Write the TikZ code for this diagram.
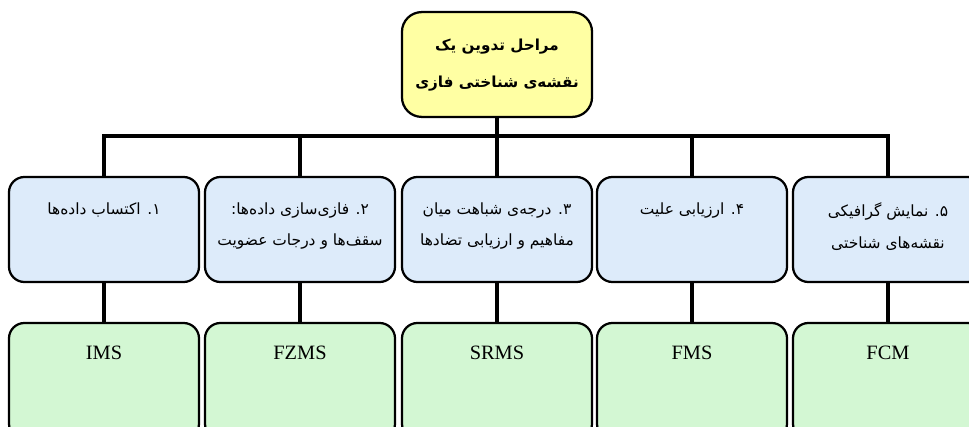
\documentclass[tikz,border=0pt]{standalone}
\usepackage{fontspec}
\setmainfont{Liberation Serif}
\newfontfamily\farsi[Script=Arabic]{DejaVu Sans}
\TeXXeTstate=1
\definecolor{topfill}{HTML}{FFFFA3}
\definecolor{bluefill}{HTML}{DDEBFA}
\definecolor{greenfill}{HTML}{D3F7D3}
\tikzset{
  boxbase/.style={draw=black, line width=1.6pt, rounded corners=11pt, inner sep=0pt, outer sep=0pt,
                  minimum width=4.75cm, minimum height=2.625cm},
  topbox/.style={boxbase, fill=topfill, minimum width=4.75cm, minimum height=2.62cm, rounded corners=14pt},
  stagebox/.style={boxbase, fill=bluefill},
  modelbox/.style={boxbase, fill=greenfill, minimum height=2.9cm},
  conn/.style={draw=black, line width=3pt},
  fatxt/.style={font=\farsi\fontsize{11}{22.7}\selectfont, align=center, anchor=north, inner sep=0pt},
  toptxt/.style={font=\farsi\bfseries\fontsize{10.8}{26.3}\selectfont, align=center, inner sep=0pt},
  entxt/.style={font=\fontsize{14.5}{16}\selectfont, anchor=center, inner sep=0pt}
}
\begin{document}
\begin{tikzpicture}[x=0.025cm,y=-0.025cm]
\useasboundingbox (0,0) rectangle (969,427);
\clip (0,0) rectangle (969,427);
% top box
\node[topbox] (top) at (497,64.5) {};
\node[toptxt] (toplbl) at (497,65) {\beginR مراحل تدوین یک\endR\\\beginR نقشه^^^^200cی شناختی فازی\endR};
\coordinate (bus) at (497,136);
% stage boxes
\node[stagebox] (s1) at (104,229.5) {};
\node[stagebox] (s2) at (300,229.5) {};
\node[stagebox] (s3) at (497,229.5) {};
\node[stagebox] (s4) at (692,229.5) {};
\node[stagebox] (s5) at (888,229.5) {};
\node[fatxt] (t1) at (104,202) {\beginR ۱. اکتساب داده^^^^200cها\endR};
\node[fatxt] (t2) at (300,202) {\beginR ۲. فازی^^^^200cسازی داده^^^^200cها:\endR\\\beginR سقف^^^^200cها و درجات عضویت\endR};
\node[fatxt] (t3) at (497,202) {\beginR ۳. درجه^^^^200cی شباهت میان\endR\\\beginR مفاهیم و ارزیابی تضادها\endR};
\node[fatxt] (t4) at (692,202) {\beginR ۴. ارزیابی علیت\endR};
\node[fatxt] (t5) at (888,202) {\beginR ۵. نمایش گرافیکی\endR\\\beginR نقشه^^^^200cهای شناختی\endR};
% model boxes
\node[modelbox] (m1) at (104,381) {};
\node[modelbox] (m2) at (300,381) {};
\node[modelbox] (m3) at (497,381) {};
\node[modelbox] (m4) at (692,381) {};
\node[modelbox] (m5) at (888,381) {};
\node[entxt] (e1) at (104,353) {IMS};
\node[entxt] (e2) at (300,353) {FZMS};
\node[entxt] (e3) at (497,353) {SRMS};
\node[entxt] (e4) at (692,353) {FMS};
\node[entxt] (e5) at (888,353) {FCM};
% connectors
\draw[conn] (top.south) -- (s3.north);
\draw[conn] (s1.north) |- (bus) -| (s5.north);
\draw[conn] (s2.north) -- (s2.north |- bus);
\draw[conn] (s4.north) -- (s4.north |- bus);
\foreach \i in {1,...,5} {\draw[conn] (s\i.south) -- (m\i.north);}
\end{tikzpicture}
\end{document}
